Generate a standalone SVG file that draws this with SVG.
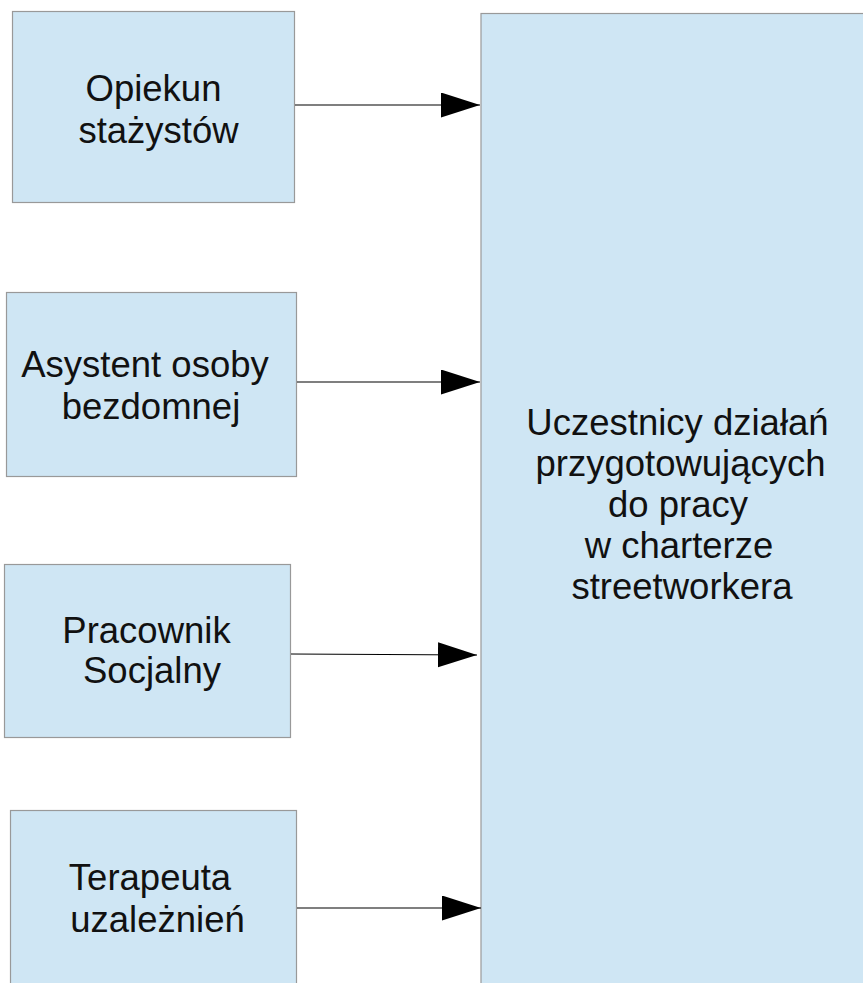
<svg xmlns="http://www.w3.org/2000/svg" width="863" height="983" viewBox="0 0 863 983">
<style>
.box{fill:#cfe6f4;stroke:#999999;stroke-width:1.2}
.t{font-family:"Liberation Sans",Arial,sans-serif;font-size:36.5px;fill:#111111}
.c{stroke:#000000;stroke-width:1.2;fill:none}
</style>
<defs>
<marker id="ah" markerUnits="userSpaceOnUse" markerWidth="40" markerHeight="26" refX="39" refY="12.5" orient="auto">
<path d="M0,0 L39,12.5 L0,25 z" fill="#000000"/>
</marker>
</defs>
<rect width="863" height="983" fill="#ffffff"/>
<g id="node-target">
<rect class="box" x="481" y="13.5" width="390" height="990"/>
<text class="t" x="677.5" y="435" text-anchor="middle">Uczestnicy działań</text>
<text class="t" x="680.5" y="476" text-anchor="middle">przygotowujących</text>
<text class="t" x="678" y="517" text-anchor="middle">do pracy</text>
<text class="t" x="679" y="558" text-anchor="middle">w charterze</text>
<text class="t" x="682" y="599" text-anchor="middle">streetworkera</text>
</g>
<g id="node-opiekun">
<rect class="box" x="12.5" y="11.5" width="282" height="191"/>
<text class="t" x="153.5" y="100.5" text-anchor="middle">Opiekun</text>
<text class="t" x="158.5" y="142.5" text-anchor="middle">stażystów</text>
</g>
<g id="node-asystent">
<rect class="box" x="6.5" y="292.5" width="290" height="184"/>
<text class="t" x="145" y="377" text-anchor="middle">Asystent osoby</text>
<text class="t" x="151" y="418.5" text-anchor="middle">bezdomnej</text>
</g>
<g id="node-pracownik">
<rect class="box" x="4.5" y="564.5" width="286" height="173"/>
<text class="t" x="146.5" y="643" text-anchor="middle">Pracownik</text>
<text class="t" x="152" y="683" text-anchor="middle">Socjalny</text>
</g>
<g id="node-terapeuta">
<rect class="box" x="10.5" y="810.5" width="286" height="200"/>
<text class="t" x="150" y="890" text-anchor="middle">Terapeuta</text>
<text class="t" x="157.5" y="931.5" text-anchor="middle">uzależnień</text>
</g>
<g id="connectors">
<line class="c" x1="295" y1="105" x2="480" y2="105" marker-end="url(#ah)"/>
<line class="c" x1="297" y1="382" x2="480" y2="382" marker-end="url(#ah)"/>
<line class="c" x1="291" y1="654" x2="477" y2="655" marker-end="url(#ah)"/>
<line class="c" x1="297" y1="908" x2="481" y2="908" marker-end="url(#ah)"/>
</g>
</svg>
